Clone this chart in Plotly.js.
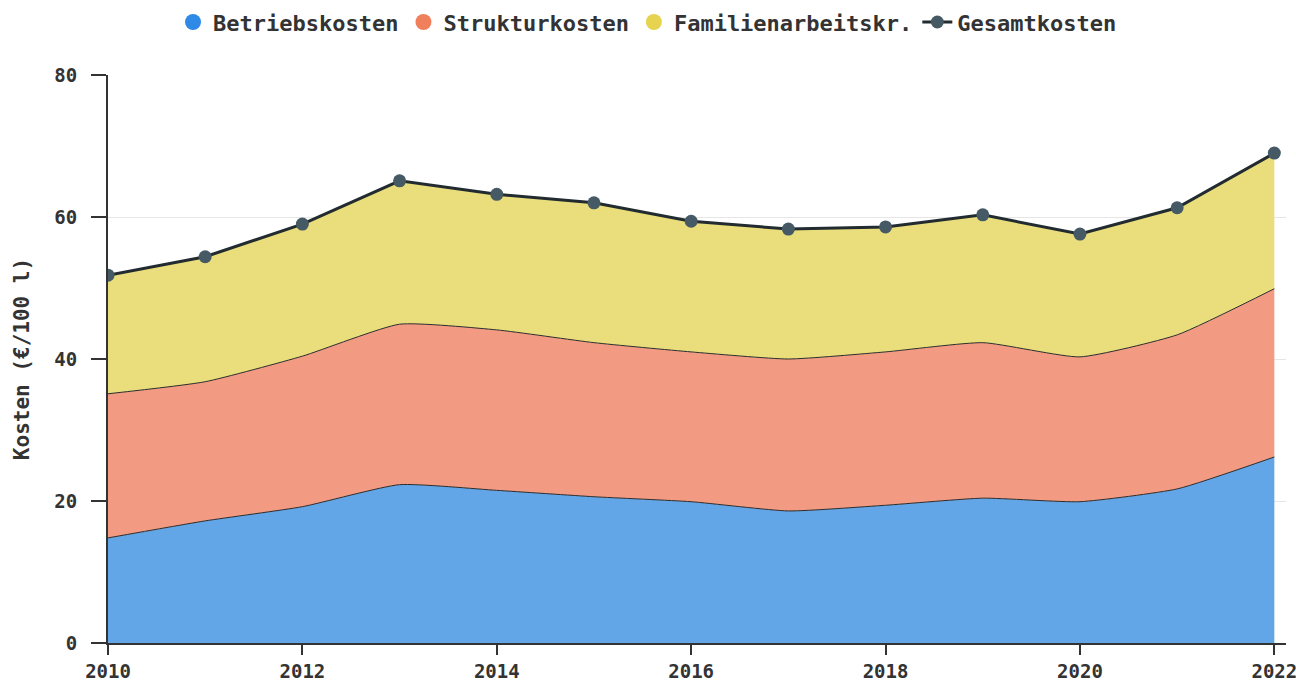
<!DOCTYPE html>
<html>
<head>
<meta charset="utf-8">
<script src="https://cdn.plot.ly/plotly-3.0.1.min.js"></script>
<style>html,body{margin:0;padding:0;background:#fff;}#chart{width:1296px;height:682px;}</style>
</head>
<body>
<div id="chart"></div>
<script>
var years = [2010, 2011, 2012, 2013, 2014, 2015, 2016, 2017, 2018, 2019, 2020, 2021, 2022];
var betriebskosten = [14.8, 17.2, 19.2, 22.3, 21.5, 20.6, 19.9, 18.6, 19.4, 20.4, 19.9, 21.7, 26.2];
var strukturkosten = [20.3, 19.6, 21.2, 22.6, 22.6, 21.7, 21.1, 21.4, 21.6, 21.9, 20.4, 21.7, 23.7];
var familienarbeit = [16.7, 17.6, 18.6, 20.2, 19.1, 19.7, 18.4, 18.3, 17.6, 18.0, 17.3, 17.9, 19.1];
var gesamtkosten = [51.8, 54.4, 59.0, 65.1, 63.2, 62.0, 59.4, 58.3, 58.6, 60.3, 57.6, 61.3, 69.0];
var seriesNames = ['Betriebskosten', 'Strukturkosten', 'Familienarbeitskr.', 'Gesamtkosten'];

var font = "'DejaVu Sans Mono', monospace";

function area(name, y, fill, shape) {
  var ln = {color: '#2b2b2b', width: 1, shape: shape};
  if (shape === 'spline') ln.smoothing = 0.5;
  return {
    x: years, y: y, name: name, type: 'scatter', mode: 'lines',
    stackgroup: 'kosten', line: ln, fillcolor: fill,
    showlegend: false, hoverinfo: 'x+y+name'
  };
}
function legendDot(name, color) {
  return {
    x: [null], y: [null], name: name, type: 'scatter', mode: 'markers',
    marker: {color: color, size: 20, symbol: 'circle'}, showlegend: true
  };
}

var data = [
  area(seriesNames[0], betriebskosten, 'rgba(98,166,232,1)', 'spline'),
  area(seriesNames[1], strukturkosten, 'rgba(242,155,130,1)', 'spline'),
  area(seriesNames[2], familienarbeit, 'rgba(233,221,124,1)', 'linear'),
  legendDot(seriesNames[0], '#2e8ae6'),
  legendDot(seriesNames[1], '#f07f5c'),
  legendDot(seriesNames[2], '#e6d450'),
  {
    x: years, y: gesamtkosten, name: seriesNames[3], type: 'scatter', mode: 'lines+markers',
    line: {color: '#222b30', width: 3},
    marker: {color: '#455a64', size: 13},
    showlegend: true
  }
];

var layout = {
  width: 1296, height: 682,
  margin: {l: 108, r: 10, t: 75, b: 39, autoexpand: false},
  paper_bgcolor: '#fff', plot_bgcolor: '#fff',
  font: {family: font, color: '#333', size: 15},
  showlegend: true,
  legend: {
    orientation: 'h', traceorder: 'normal', x: 0.458, xanchor: 'center', y: 1.093, yanchor: 'middle',
    font: {family: font, size: 22, color: '#333', weight: 'bold'},
    itemsizing: 'trace', tracegroupgap: 0
  },
  xaxis: {
    range: [2010, 2022.12], tickmode: 'array',
    tickvals: [2010, 2012, 2014, 2016, 2018, 2020, 2022],
    ticktext: ['2010', '2012', '2014', '2016', '2018', '2020', '2022'],
    showgrid: false, zeroline: false,
    showline: true, linecolor: '#333', linewidth: 2,
    ticks: 'outside', ticklen: 10, tickwidth: 2, tickcolor: '#333',
    ticklabeloverflow: 'allow',
    tickfont: {family: font, size: 19, color: '#333', weight: 'bold'}
  },
  yaxis: {
    range: [0, 80], tickvals: [0, 20, 40, 60, 80],
    showgrid: true, gridcolor: '#e6e6e6', gridwidth: 1, zeroline: false,
    showline: true, linecolor: '#333', linewidth: 2,
    ticks: 'outside', ticklen: 15, tickwidth: 2, tickcolor: '#333',
    ticklabelstandoff: 10,
    tickfont: {family: font, size: 19, color: '#333', weight: 'bold'},
    title: {text: 'Kosten (€/100 l)', standoff: 19, font: {family: font, size: 21, color: '#333', weight: 'bold'}}
  }
};

Plotly.newPlot('chart', data, layout, {displayModeBar: false, staticPlot: true});
</script>
</body>
</html>
